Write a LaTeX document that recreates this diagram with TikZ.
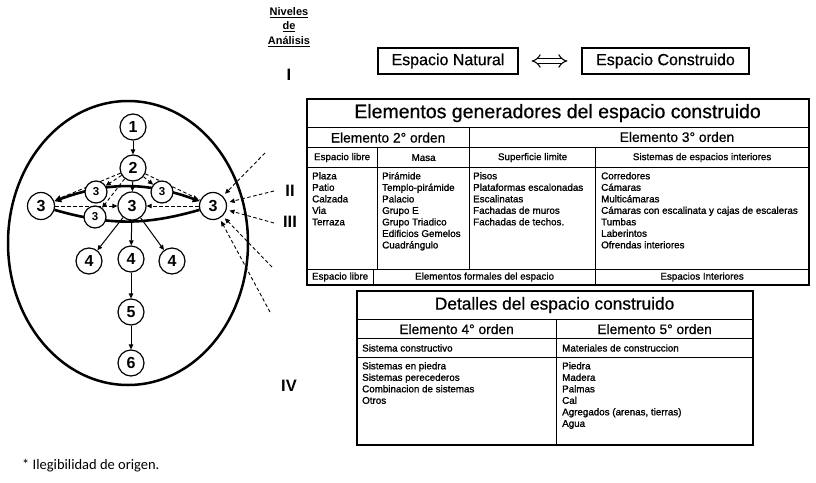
\documentclass[tikz,border=0pt]{standalone}
\usepackage{fontspec}
\setmainfont{Liberation Sans}
\newfontfamily\calib{Carlito}
\newfontfamily\scan[FakeBold=1.2]{Liberation Sans}
\newfontfamily\scanmid[FakeBold=0.6]{Liberation Sans}
\usetikzlibrary{arrows.meta,shapes.geometric}
\pgfdeclarelayer{bg}
\pgfsetlayers{bg,main}
\begin{document}
\begin{tikzpicture}[x=1pt,y=-1pt,
  circ/.style={circle,draw,line width=1.2pt,fill=white,inner sep=0pt,minimum size=26pt,font=\fontsize{16}{16}\selectfont\bfseries},
  smallcirc/.style={circ,minimum size=22pt,font=\fontsize{11.5}{11.5}\selectfont\bfseries},
  arr/.style={line width=1pt,-{Triangle[length=5pt,width=4.5pt]}},
  dsh/.style={line width=0.9pt,dash pattern=on 3.5pt off 2.5pt},
  darr/.style={dsh,-{Triangle[length=5pt,width=4.5pt]}},
  lens/.style={line width=2.6pt},
  cell/.style={draw,line width=1.2pt,inner sep=0pt,anchor=north west},
  sml/.style={font=\scan\fontsize{9.8}{11.5}\selectfont},
  bodytxt/.style={sml,anchor=north west,inner sep=0pt,align=left},
  mid/.style={font=\scanmid\fontsize{13.8}{14}\selectfont},
  roman/.style={font=\fontsize{16.5}{16.5}\selectfont\bfseries,inner sep=0.5pt,anchor=center,draw=white,line width=0.1pt},
  topbox/.style={draw,line width=1.2pt,inner sep=0pt,minimum height=26pt,font=\scanmid\fontsize{16}{16}\selectfont}
]
\begin{pgfonlayer}{bg}
\fill[white] (0,0) rectangle (816,482);
\end{pgfonlayer}
\useasboundingbox (0,0) rectangle (816,482);

% ---------- left diagram ----------
\node[circ] (n1) at (133,127) {1};
\node[circ] (n2) at (133,168) {2};
\node[circ,minimum size=28pt] (c3) at (132,206) {3};
\node[circ,minimum size=27pt] (L3) at (41,206) {3};
\node[circ,minimum size=27pt] (R3) at (213,206) {3};
\node[smallcirc] (sTL) at (96,192) {3};
\node[smallcirc] (sTR) at (162,192) {3};
\node[smallcirc] (sBL) at (95,217) {3};
\node[circ] (f4a) at (89,261) {4};
\node[circ] (f4b) at (131,259) {4};
\node[circ] (f4c) at (172,261) {4};
\node[circ] (n5) at (131,312) {5};
\node[circ] (n6) at (131,363) {6};

\coordinate (e1) at (265,153);
\coordinate (e2) at (274,191);
\coordinate (e3) at (274,223);
\coordinate (e4) at (272,267);
\coordinate (e5) at (270,312);

\begin{pgfonlayer}{bg}
\draw[line width=2.5pt] (128,243) ellipse [x radius=120pt, y radius=142pt];
\draw[lens,{Triangle[length=7pt,width=7pt]}-{Triangle[length=7pt,width=7pt]}] (L3) to[out=20,in=160] (R3);
\draw[lens] (L3) to[out=-16,in=196] (R3);
\draw[dsh] (n2) -- (L3);
\draw[dsh] (n2) -- (R3);
\end{pgfonlayer}

\draw[arr] (n1) -- (n2);
\draw[arr] (n2) -- (c3);
\draw[darr] (n2) -- (sTL);
\draw[darr] (n2) -- (sTR);
\draw[darr] (n2) -- (sBL);
\draw[darr] (L3) -- (c3);
\draw[darr] (R3) -- (c3);
\draw[arr] (c3) -- (f4a);
\draw[arr] (c3) -- (f4b);
\draw[arr] (c3) -- (f4c);
\draw[arr] (f4b) -- (n5);
\draw[arr] (n5) -- (n6);

\draw[darr,shorten >=3pt] (e1) -- (R3);
\draw[darr,shorten >=3pt] (e2) -- (R3);
\draw[darr,shorten >=3pt] (e3) -- (R3);
\draw[darr,shorten >=3pt] (e4) -- (R3);
\draw[darr,shorten >=3pt] (e5) -- (R3);

% ---------- levels ----------
\node[font=\fontsize{11}{14.5}\selectfont\bfseries,align=center,inner sep=0pt] (niveles) at (289,27)
  {\underline{Niveles}\\\underline{de}\\\underline{Análisis}};
\node[roman] (rI) at (289,75) {I};
\node[roman] (rII) at (290,191) {II};
\node[roman] (rIII) at (290,222) {III};
\node[roman] (rIV) at (289,386) {IV};

% ---------- top boxes ----------
\node[topbox,minimum width=140pt] (natural) at (448,61) {Espacio Natural};
\node[topbox,minimum width=167pt] (construido) at (665.5,61) {Espacio Construido};
\draw[line width=1.1pt,double distance=3.6pt,{Implies}-{Implies},shorten <=13pt,shorten >=14pt] (natural) -- (construido);

% ---------- table 1 ----------
\node[cell,minimum width=502pt,minimum height=29pt,font=\scanmid\fontsize{19.5}{20}\selectfont] (t1title) at (306,98) {Elementos generadores del espacio construido};
\node[cell,minimum width=163pt,minimum height=20pt,mid] (t1e2) at (306,127) {Elemento 2° orden};
\node[cell,minimum width=339pt,minimum height=20pt] (t1e3) at (469,127) {};
\node[mid,inner sep=0pt] (t1e3txt) at (677,137) {Elemento 3° orden};
\node[cell,minimum width=71pt,minimum height=20pt,sml] (t1h1) at (306,147) {Espacio libre};
\node[cell,minimum width=92pt,minimum height=20pt,sml] (t1h2) at (377,147) {Masa};
\node[cell,minimum width=126pt,minimum height=20pt,sml] (t1h3) at (469,147) {Superficie limite};
\node[cell,minimum width=213pt,minimum height=20pt,sml] (t1h4) at (595,147) {Sistemas de espacios interiores};
\node[cell,minimum width=71pt,minimum height=102pt] (t1b1) at (306,167) {};
\node[cell,minimum width=92pt,minimum height=102pt] (t1b2) at (377,167) {};
\node[cell,minimum width=126pt,minimum height=102pt] (t1b3) at (469,167) {};
\node[cell,minimum width=213pt,minimum height=102pt] (t1b4) at (595,167) {};
\node[cell,minimum width=67pt,minimum height=15pt,sml] (t1f1) at (306,269) {Espacio libre};
\node[cell,minimum width=222pt,minimum height=15pt,sml] (t1f2) at (373,269) {Elementos formales del espacio};
\node[cell,minimum width=213pt,minimum height=15pt,sml] (t1f3) at (595,269) {Espacios Interiores};
\node[cell,line width=2.2pt,minimum width=502pt,minimum height=186pt] (t1frame) at (306,98) {};

\node[bodytxt] (t1l1) at (312,172) {Plaza\\Patio\\Calzada\\Via\\Terraza};
\node[bodytxt] (t1l2) at (382,172) {Pirámide\\Templo-pirámide\\Palacio\\Grupo E\\Grupo Triadico\\Edificios Gemelos\\Cuadrángulo};
\node[bodytxt] (t1l3) at (473,172) {Pisos\\Plataformas escalonadas\\Escalinatas\\Fachadas de muros\\Fachadas de techos.};
\node[bodytxt] (t1l4) at (601,172) {Corredores\\Cámaras\\Multicámaras\\Cámaras con escalinata y cajas de escaleras\\Tumbas\\Laberintos\\Ofrendas interiores};

% ---------- table 2 ----------
\node[cell,minimum width=396pt,minimum height=29pt,font=\scanmid\fontsize{17.3}{18}\selectfont] (t2title) at (356,290) {Detalles del espacio construido};
\node[cell,minimum width=200pt,minimum height=19pt,mid] (t2e4) at (356,319) {Elemento 4° orden};
\node[cell,minimum width=196pt,minimum height=19pt,mid] (t2e5) at (556,319) {Elemento 5° orden};
\node[cell,minimum width=200pt,minimum height=19pt] (t2h1) at (356,338) {};
\node[cell,minimum width=196pt,minimum height=19pt] (t2h2) at (556,338) {};
\node[sml,anchor=west,inner sep=0pt] (t2h1txt) at (362,348) {Sistema constructivo};
\node[sml,anchor=west,inner sep=0pt] (t2h2txt) at (562,348) {Materiales de construccion};
\node[cell,minimum width=200pt,minimum height=87pt] (t2b1) at (356,357) {};
\node[cell,minimum width=196pt,minimum height=87pt] (t2b2) at (556,357) {};
\node[cell,line width=2.2pt,minimum width=396pt,minimum height=154pt] (t2frame) at (356,290) {};
\node[bodytxt] (t2l1) at (362,362) {Sistemas en piedra\\Sistemas perecederos\\Combinacion de sistemas\\Otros};
\node[bodytxt] (t2l2) at (562,362) {Piedra\\Madera\\Palmas\\Cal\\Agregados (arenas, tierras)\\Agua};

% ---------- footnote ----------
\node[font=\calib\fontsize{14.5}{14.5}\selectfont,anchor=west,inner sep=0pt] (foot) at (22,466) {* Ilegibilidad de origen.};
\end{tikzpicture}
\end{document}
